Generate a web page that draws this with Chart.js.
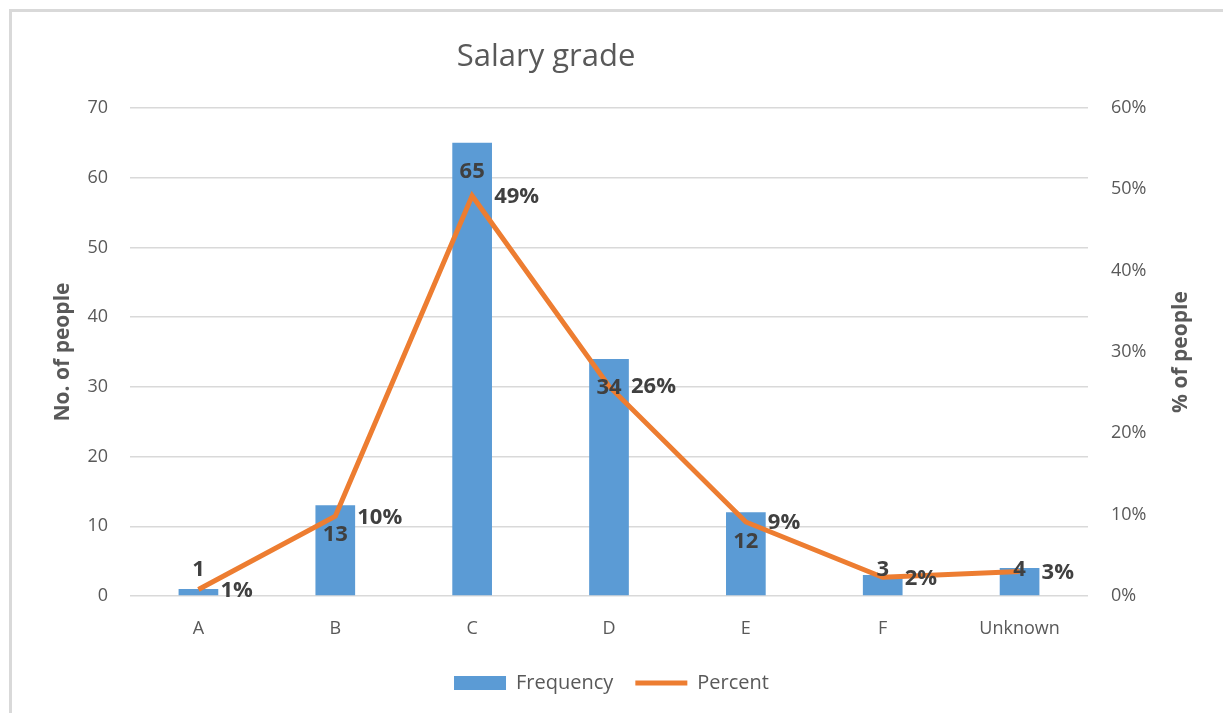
<!DOCTYPE html>
<html>
<head>
<meta charset="utf-8">
<title>Salary grade</title>
<script src="https://cdn.jsdelivr.net/npm/chart.js@4.4.1/dist/chart.umd.min.js"></script>
<style>
  html, body { margin: 0; padding: 0; background: #fff; overflow: hidden; }
  #wrap { position: relative; width: 1223px; height: 713px; }
  #frame { position: absolute; left: 9px; top: 9px; right: -10px; bottom: -10px;
           border-top: 3px solid #d9d9d9; border-left: 3px solid #d9d9d9; }
  canvas { position: absolute; left: 0; top: 0; }
</style>
</head>
<body>
<div id="wrap">
  <div id="frame"></div>
  <canvas id="chart"></canvas>
</div>
<script>
const grades = ["A", "B", "C", "D", "E", "F", "Unknown"];
const frequency = [1, 13, 65, 34, 12, 3, 4];
const percent = [0.8, 9.8, 49.2, 25.8, 9.1, 2.3, 3.0];

const textGrey = "#595959";
const labelGrey = "#404040";

Chart.defaults.font.family = '"Open Sans", sans-serif';

// value labels, chart title (sits left of centre) and right axis title (reads bottom-to-top)
const valueLabels = {
  id: "valueLabels",
  afterDatasetsDraw(chart) {
    const ctx = chart.ctx;
    const base = chart.scales.y.getPixelForValue(0);
    ctx.save();
    ctx.font = 'bold 22px "Open Sans"';
    ctx.fillStyle = labelGrey;
    ctx.textBaseline = "middle";
    ctx.textAlign = "center";
    chart.getDatasetMeta(0).data.forEach((bar, i) => {
      ctx.fillText(frequency[i], bar.x, Math.min(bar.y + 29, base - 26));
    });
    ctx.textAlign = "left";
    chart.getDatasetMeta(1).data.forEach((pt, i) => {
      ctx.fillText(Math.round(percent[i]) + "%", pt.x + 22, pt.y + 1);
    });
    ctx.restore();
  },
  afterDraw(chart) {
    const ctx = chart.ctx;
    const area = chart.chartArea;
    ctx.save();
    ctx.fillStyle = textGrey;
    ctx.textAlign = "center";
    ctx.textBaseline = "middle";
    ctx.font = '31px "Open Sans"';
    ctx.fillText("Salary grade", 546, 57);
    ctx.translate(1181, (area.top + area.bottom) / 2);
    ctx.rotate(-Math.PI / 2);
    ctx.font = 'bold 21px "Open Sans"';
    ctx.fillText("% of people", 0, 0);
    ctx.restore();
  }
};

new Chart(document.getElementById("chart"), {
  data: {
    labels: grades,
    datasets: [
      {
        type: "bar",
        label: "Frequency",
        data: frequency,
        backgroundColor: "#5b9bd5",
        borderWidth: 0,
        barPercentage: 0.29,
        categoryPercentage: 1,
        pointStyle: "rect",
        yAxisID: "y",
        order: 1
      },
      {
        type: "line",
        label: "Percent",
        data: percent,
        borderColor: "#ed7d31",
        backgroundColor: "#ed7d31",
        borderWidth: 5,
        pointRadius: 0,
        pointBorderWidth: 5,
        pointBorderColor: "#ed7d31",
        pointStyle: "line",
        tension: 0,
        yAxisID: "y1",
        order: 0
      }
    ]
  },
  options: {
    responsive: true,
    maintainAspectRatio: false,
    animation: false,
    layout: { padding: { left: 0, right: 0, top: 108, bottom: 10 } },
    plugins: {
      title: { display: false },
      legend: {
        position: "bottom",
        labels: {
          usePointStyle: true,
          pointStyleWidth: 52,
          boxHeight: 14,
          color: textGrey,
          font: { size: 20 },
          padding: 22,
          sort: (a, b) => a.datasetIndex - b.datasetIndex
        }
      },
      tooltip: { enabled: false }
    },
    scales: {
      x: {
        grid: { display: false, drawTicks: false },
        border: { display: false },
        ticks: { color: textGrey, font: { size: 18 }, padding: 22 },
        afterFit(s) { s.height = 55; }
      },
      y: {
        position: "left",
        min: 0,
        max: 70,
        ticks: { stepSize: 10, color: textGrey, font: { size: 18 }, padding: 22 },
        grid: { color: "#d9d9d9", lineWidth: 1.5, drawTicks: false },
        border: { display: false },
        title: {
          display: true,
          text: "No. of people",
          color: textGrey,
          font: { size: 21, weight: "bold" },
          padding: { top: 50, bottom: 0 }
        },
        afterFit(s) { s.width = 130; }
      },
      y1: {
        position: "right",
        min: 0,
        max: 60,
        ticks: { stepSize: 10, color: textGrey, font: { size: 18 }, padding: 23,
                 callback: v => v + "%" },
        grid: { display: false, drawTicks: false },
        border: { display: false },
        afterFit(s) { s.width = 135; }
      }
    }
  },
  plugins: [valueLabels]
});
</script>
</body>
</html>
